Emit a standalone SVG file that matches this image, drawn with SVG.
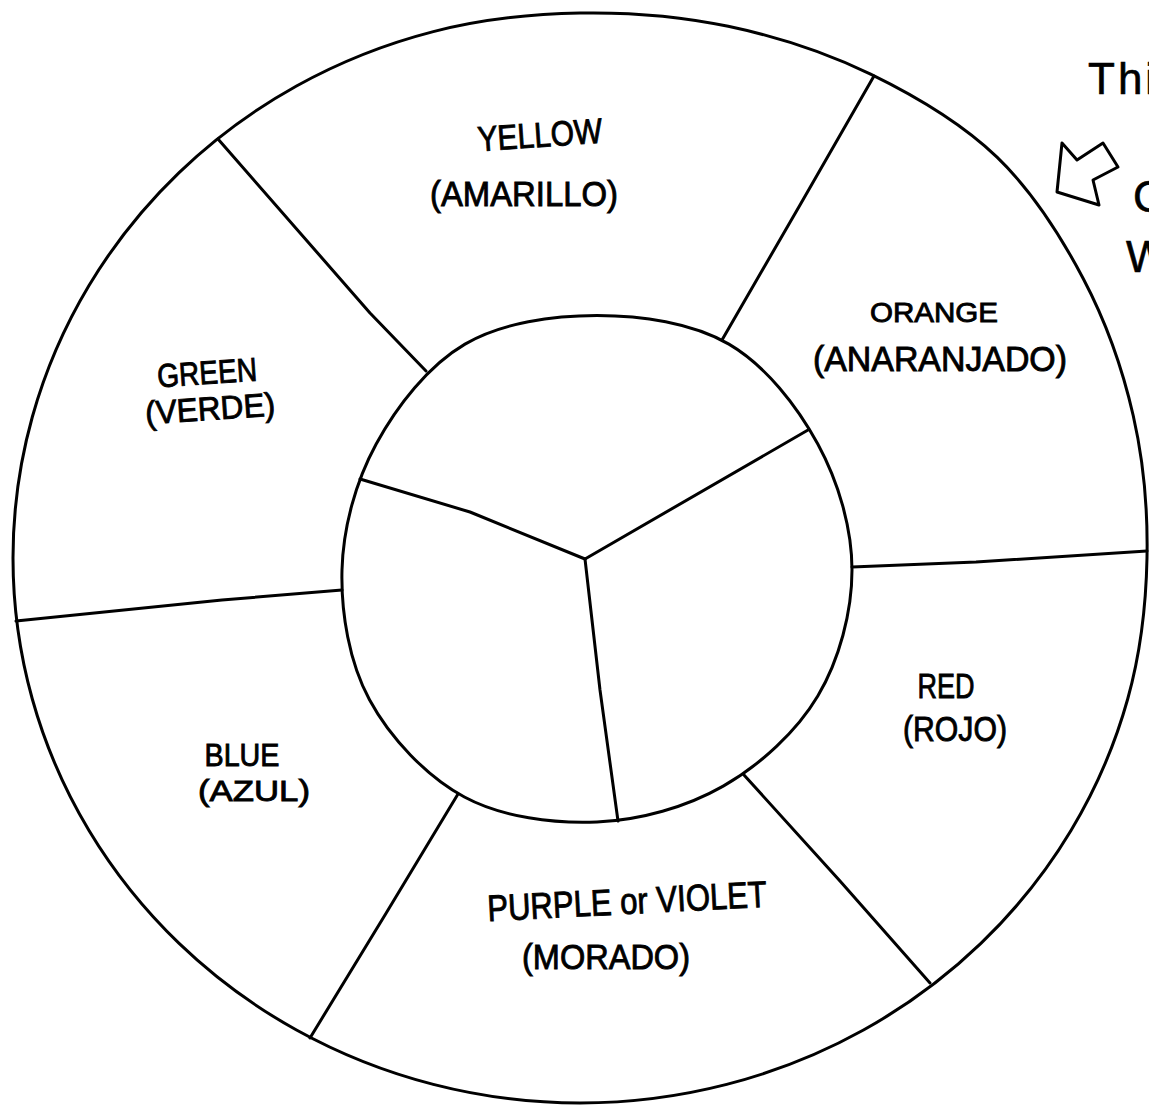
<svg xmlns="http://www.w3.org/2000/svg" width="1149" height="1106" viewBox="0 0 1149 1106">
<style>
.ln{fill:none;stroke:#000;stroke-width:3;stroke-linecap:round;stroke-linejoin:round}
.lb{font-family:"Liberation Sans","DejaVu Sans",Arial,sans-serif;fill:#000;stroke:#000;stroke-width:0.9;text-anchor:middle}
.nt{font-family:"Liberation Sans","DejaVu Sans",Arial,sans-serif;fill:#000;stroke:#000;stroke-width:0.6;font-size:44px}
</style>
<rect width="1149" height="1106" fill="#fff"/>
<g id="outer-ring">
<path class="ln" d="M580,13 C629.15,12.12 679.77,16.1 728.2,26.3 C776.63,36.5 825.8,52.38 870.6,74.2 C915.4,96.02 961.55,123.12 997,157.2 C1032.45,191.28 1060.6,235.65 1083.3,278.7 C1106,321.75 1122.58,368.95 1133.2,415.5 C1143.82,462.05 1147.92,510.75 1147,558 C1146.08,605.25 1140.37,653.58 1127.7,699 C1115.03,744.42 1095.47,789.77 1071,830.5 C1046.53,871.23 1015.48,910.15 980.9,943.4 C946.32,976.65 905.87,1006.5 863.5,1030 C821.13,1053.5 773.95,1072.23 726.7,1084.4 C679.45,1096.57 628.9,1103 580,1103 C531.1,1103 480.55,1096.57 433.3,1084.4 C386.05,1072.23 338.87,1053.5 296.5,1030 C254.13,1006.5 213.68,976.65 179.1,943.4 C144.52,910.15 113.47,871.23 89,830.5 C64.53,789.77 44.97,744.42 32.3,699 C19.63,653.58 13,605 13,558 C13,511 19.63,462.42 32.3,417 C44.97,371.58 64.53,326.23 89,285.5 C113.47,244.77 144.52,205.85 179.1,172.6 C213.68,139.35 254.13,109.5 296.5,86 C338.87,62.5 386.05,43.77 433.3,31.6 C480.55,19.43 530.85,13.88 580,13 Z"/>
</g>
<g id="inner-circle">
<path class="ln" d="M597,315.5 C640.98,315.5 692.1,322.68 728.9,344.1 C765.7,365.52 797.28,406.35 817.8,444 C838.32,481.65 852,528 852,570 C852,612 839.27,659.98 817.8,696 C796.33,732.02 760,765.1 723.2,786.1 C686.4,807.1 640.13,820.18 597,822 C553.87,823.82 502.32,817.37 464.4,797 C426.48,776.63 389.9,737.63 369.5,699.8 C349.1,661.97 340.88,612.63 342,570 C343.12,527.37 355.7,481.65 376.2,444 C396.7,406.35 428.2,365.52 465,344.1 C501.8,322.68 553.02,315.5 597,315.5 Z"/>
</g>
<g id="connectors">
<polyline class="ln" points="218,139 370,313 426,371"/>
<polyline class="ln" points="874,76 800,205 722,340"/>
<polyline class="ln" points="852,567 976,562 1147,551"/>
<polyline class="ln" points="744,775 840,881 930,983"/>
<polyline class="ln" points="458,794 385,915 310,1038"/>
<polyline class="ln" points="342,590 222,600 16,621"/>
<polyline class="ln" points="360,479 470,512 585,559"/>
<polyline class="ln" points="585,559 808,430"/>
<polyline class="ln" points="585,559 600,690 618,821"/>
</g>
<g id="yellow">
<text class="lb" x="540" y="147" font-size="35" textLength="125" lengthAdjust="spacingAndGlyphs" transform="rotate(-4 540 136)">YELLOW</text>
<text class="lb" x="524" y="206" font-size="35" textLength="188" lengthAdjust="spacingAndGlyphs">(AMARILLO)</text>
</g>
<g id="orange">
<text class="lb" x="934" y="322" font-size="28" textLength="128" lengthAdjust="spacingAndGlyphs">ORANGE</text>
<text class="lb" x="940" y="371" font-size="35" textLength="254" lengthAdjust="spacingAndGlyphs">(ANARANJADO)</text>
</g>
<g id="green">
<text class="lb" x="207" y="384" font-size="33" textLength="100" lengthAdjust="spacingAndGlyphs" transform="rotate(-4 207 372)">GREEN</text>
<text class="lb" x="210" y="420" font-size="33" textLength="130" lengthAdjust="spacingAndGlyphs" transform="rotate(-4 210 408)">(VERDE)</text>
</g>
<g id="blue">
<text class="lb" x="242" y="766" font-size="32" textLength="75" lengthAdjust="spacingAndGlyphs">BLUE</text>
<text class="lb" x="254" y="801" font-size="30" textLength="112" lengthAdjust="spacingAndGlyphs">(AZUL)</text>
</g>
<g id="purple">
<text class="lb" x="627" y="914" font-size="37" textLength="280" lengthAdjust="spacingAndGlyphs" transform="rotate(-3 627 900)">PURPLE or VIOLET</text>
<text class="lb" x="606" y="969" font-size="35" textLength="168" lengthAdjust="spacingAndGlyphs">(MORADO)</text>
</g>
<g id="red">
<text class="lb" x="946" y="698" font-size="35" textLength="57" lengthAdjust="spacingAndGlyphs">RED</text>
<text class="lb" x="955" y="741" font-size="35" textLength="104" lengthAdjust="spacingAndGlyphs">(ROJO)</text>
</g>
<g id="note">
<text class="nt" x="1088" y="94" letter-spacing="3">Thi</text>
<polygon class="ln" stroke-width="3.5" points="1062,143 1077,160 1103,143 1118,167 1093,180 1099,205 1057,192"/>
<text class="nt" x="1133" y="212">C</text>
<text class="nt" x="1126" y="272">W</text>
</g>
</svg>
